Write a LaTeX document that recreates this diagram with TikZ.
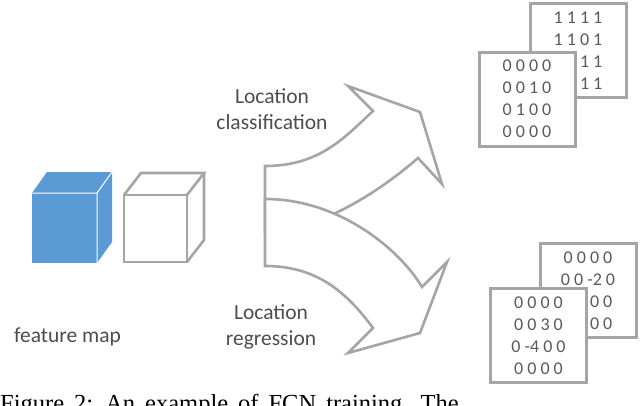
\documentclass[tikz,border=0pt]{standalone}
\usepackage{fontspec}
\setmainfont{Carlito}
\newfontfamily\capfont{Liberation Serif}
\definecolor{cubeblue}{HTML}{5B9BD5}
\definecolor{linegray}{HTML}{A5A5A5}
\definecolor{txtgray}{HTML}{4D4D4D}
\definecolor{digitgray}{HTML}{5A5A5A}
\begin{document}
\begin{tikzpicture}[x=1pt,y=-1pt,
  lbl/.style={text=txtgray, font=\fontsize{21.5}{26}\selectfont, inner sep=0pt, anchor=base},
  matbox/.style={draw=linegray, line width=3pt, fill=white, minimum width=96pt, minimum height=94pt,
    inner sep=0pt, align=center, text=digitgray, font=\fontsize{18}{22}\selectfont},
  arr/.style={draw=linegray, line width=2.6pt, fill=white},
  cubeline/.style={draw=linegray, line width=2.6pt}]
\useasboundingbox (0,0) rectangle (640,405);
\clip (0,0) rectangle (640,405);
% blue cube
\fill[cubeblue] (32,193) rectangle (97,263);
\fill[cubeblue] (32,193) -- (47,172) -- (112,172) -- (97,193) -- cycle;
\fill[cubeblue] (97,193) -- (112,172) -- (112,242) -- (97,263) -- cycle;
\draw[white, line width=1pt] (32,193) -- (97,193) -- (97,263) (97,193) -- (112,172);
% gray cube
\draw[cubeline] (124,195) rectangle (187,262);
\draw[cubeline] (124,195) -- (141,173) -- (204,173) -- (187,195);
\draw[cubeline] (204,173) -- (204,240) -- (187,262);
% labels
\node[lbl] (fm) at (67.5,342) {feature map};
\node[lbl] (lc1) at (272,103) {Location};
\node[lbl] (lc2) at (272,129) {classification};
\node[lbl] (lr1) at (271,319) {Location};
\node[lbl] (lr2) at (271,345) {regression};
% arrows
\draw[arr] (265,166) .. controls (320,166) and (345,137) .. (373,111) -- (348,86) -- (420,112)
  -- (442,184) -- (418,158) .. controls (370,200) and (310,232) .. (265,232) -- cycle;
\draw[arr] (265,199) .. controls (340,199) and (400,250) .. (422,287) -- (447,262) -- (420,333)
  -- (348,353) -- (373,328) .. controls (345,290) and (315,266) .. (265,266) -- cycle;
% matrices
\node[matbox] (cb) at (578,50.5) {1 1 1 1\\1 1 0 1\\1 0 1 1\\1 1 1 1};
\node[matbox] (cf) at (527,99) {0 0 0 0\\0 0 1 0\\0 1 0 0\\0 0 0 0};
\node[matbox] (rb) at (588,290.5) {0 0 0 0\\0 0 -2 0\\0 0 0 0\\0 0 0 0};
\node[matbox] (rf) at (538.5,335.5) {0 0 0 0\\0 0 3 0\\0 -4 0 0\\0 0 0 0};
% caption (cut off)
\node[anchor=base west, inner sep=0pt, font=\capfont\fontsize{24.5}{28}\selectfont] (cap) at (0,411)
  {\spaceskip=10pt Figure 2: An example of FCN training. The};
\end{tikzpicture}
\end{document}
